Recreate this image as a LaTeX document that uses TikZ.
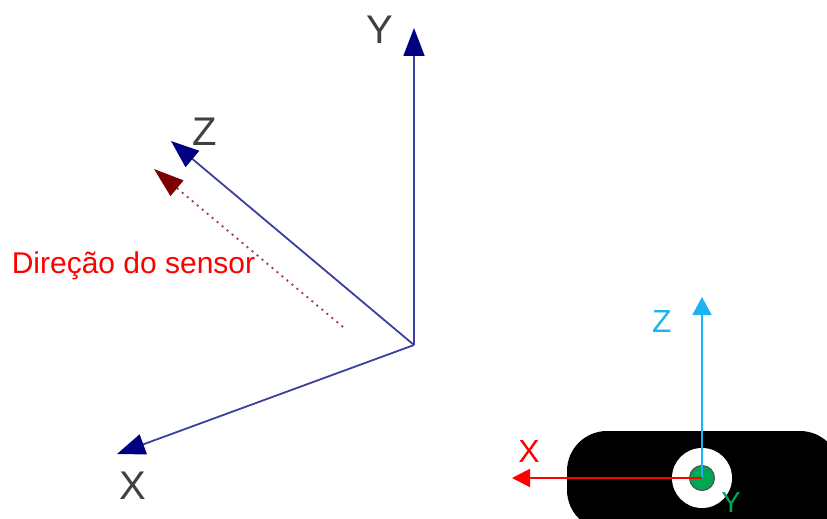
\documentclass[tikz,border=0pt]{standalone}
\usepackage{fontspec}
\setmainfont{Liberation Sans}
\usetikzlibrary{arrows.meta}
\definecolor{navyax}{HTML}{000080}
\definecolor{lineax}{HTML}{3B3F9E}
\definecolor{darkred}{HTML}{7B0000}
\definecolor{dotred}{HTML}{A04040}
\definecolor{cyanax}{HTML}{1CB4F0}
\definecolor{greendot}{HTML}{00A651}
\tikzset{
  axis/.style={draw=lineax,line width=1.8pt,-{Triangle[length=28pt,width=21pt,fill=navyax,color=navyax]}},
  lab/.style={font=\fontsize{40}{40}\selectfont,text=black!75,inner sep=0pt},
  smalllab/.style={font=\fontsize{32}{32}\selectfont,inner sep=0pt},
}
\begin{document}
\begin{tikzpicture}[x=1pt,y=-1pt]
\useasboundingbox (0,0) rectangle (827,519);
\coordinate (O) at (414,345);
\coordinate (Yt) at (414,28);
\coordinate (Zt) at (171,141);
\coordinate (Xt) at (117,454);
\draw[axis] (O) -- (Yt);
\draw[axis] (O) -- (Zt);
\draw[axis] (O) -- (Xt);
\node[lab] (ly) at (380,30) {Y};
\node[lab] (lz) at (205,132) {Z};
\node[lab] (lx) at (133,486) {X};
\coordinate (ds) at (343,327);
\coordinate (de) at (154,169);
\draw[dotred,line width=1.8pt,dash pattern=on 2pt off 4.5pt,-{Triangle[length=30pt,width=20pt,fill=darkred,color=darkred]}] (ds) -- (de);
\node[font=\fontsize{30}{30}\selectfont,text=red,inner sep=0pt] (dir) at (133.5,266) {Direção do sensor};
\fill[black,rounded corners=40pt] (567,431) rectangle (840,530);
\fill[white] (702,478) circle (30pt);
\fill[greendot,draw=black!70,line width=1pt] (702,478) circle (12.5pt);
\coordinate (C) at (702,478);
\coordinate (Zc) at (702,297);
\coordinate (Xc) at (512,478);
\draw[cyanax,line width=1.8pt,-{Triangle[length=18pt,width=19pt,color=cyanax,fill=cyanax]}] (C) -- (Zc);
\draw[red,line width=1.8pt,-{Triangle[length=18pt,width=18pt,color=red,fill=red]}] (C) -- (Xc);
\node[smalllab,text=cyanax] (zc) at (662,321) {Z};
\node[smalllab,text=red] (xc) at (529,451) {X};
\node[font=\fontsize{29}{29}\selectfont,inner sep=0pt,text=greendot,text depth=0pt,anchor=base] (yc) at (731,512) {Y};
\end{tikzpicture}
\end{document}
